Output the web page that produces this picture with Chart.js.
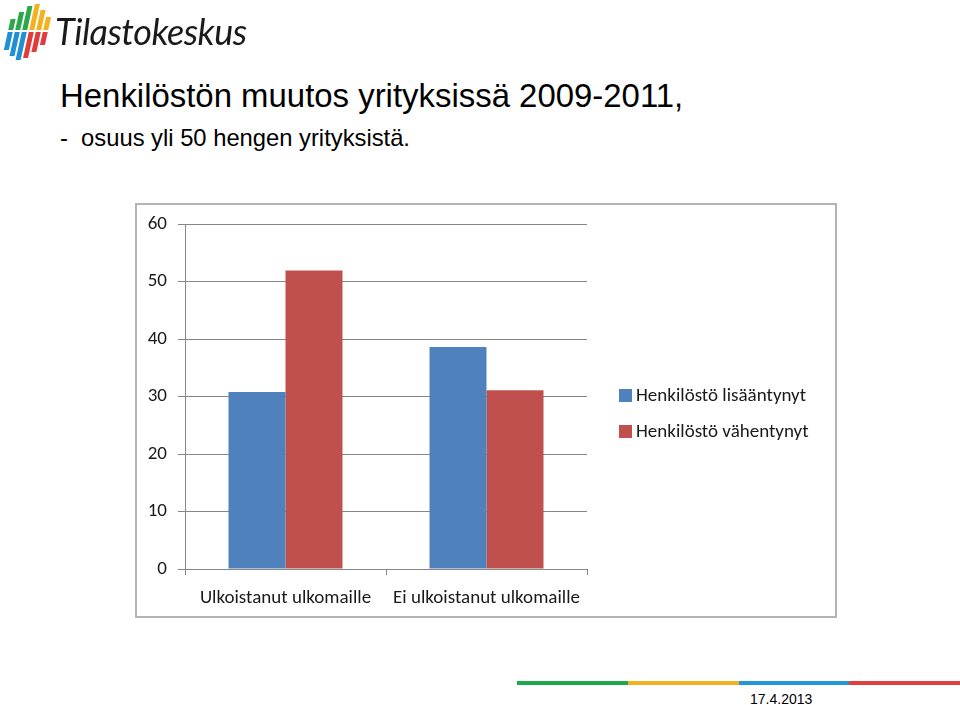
<!DOCTYPE html>
<html>
<head>
<meta charset="utf-8">
<script src="https://cdn.jsdelivr.net/npm/chart.js@4.4.0/dist/chart.umd.min.js"></script>
<style>
  html, body { margin: 0; padding: 0; background: #fff; width: 960px; height: 705px; overflow: hidden; position: relative; }
  #logoMark { position: absolute; left: 0; top: 0; }
  #logoText { position: absolute; left: 55px; top: 9px; font-family: "Lato", sans-serif; font-style: italic; font-size: 36px; color: #1a1a1a; letter-spacing: -0.5px; white-space: nowrap; }
  #title1 { position: absolute; left: 60px; top: 76px; font-family: "Liberation Sans", Arial, sans-serif; font-size: 34px; color: #000; white-space: nowrap; transform-origin: 0 0; transform: scaleX(0.968); }
  #title2 { position: absolute; left: 60px; top: 124px; font-family: "Liberation Sans", Arial, sans-serif; font-size: 24px; color: #000; white-space: nowrap; transform-origin: 0 0; transform: scaleX(0.99); }
  #frame { position: absolute; left: 135px; top: 203px; width: 698px; height: 411px; border: 2px solid #b4b4b4; }
  #chartWrap { position: absolute; left: 0; top: 0; width: 698px; height: 411px; }
  #legend { position: absolute; left: 482px; top: 178px; font-family: "Carlito", "Lato", sans-serif; font-size: 19px; color: #1a1a1a; }
  .li { position: relative; height: 36px; line-height: 24px; white-space: nowrap; }
  .sw { position: absolute; left: 0; top: 6px; width: 13px; height: 13px; }
  .lt { position: absolute; left: 17px; top: 0; }
  #footer { position: absolute; left: 517px; top: 681px; width: 443px; height: 4px; display: flex; }
  #footer div { flex: 1; height: 4px; }
  #date { position: absolute; left: 750px; top: 691px; font-family: "Liberation Sans", Arial, sans-serif; font-size: 14px; color: #000; }
</style>
</head>
<body>
<canvas id="logoMark" width="56" height="64"></canvas>
<div id="logoText">Tilastokeskus</div>
<div id="title1">Henkilöstön muutos yrityksissä 2009-2011,</div>
<div id="title2">-&nbsp;&nbsp;osuus yli 50 hengen yrityksistä.</div>
<div id="frame">
  <div id="chartWrap"><canvas id="chart" width="698" height="411"></canvas></div>
  <div id="legend"></div>
</div>
<div id="footer"><div style="background:#1ea84e"></div><div style="background:#f4b223"></div><div style="background:#2196d8"></div><div style="background:#e2403f"></div></div>
<div id="date">17.4.2013</div>

<script>
// ---- data ----
const categories = ["Ulkoistanut ulkomaille", "Ei ulkoistanut ulkomaille"];
const seriesNames = ["Henkilöstö lisääntynyt", "Henkilöstö vähentynyt"];
const increased = [30.8, 38.6];
const decreased = [51.9, 31.1];
const yTicks = [0, 10, 20, 30, 40, 50, 60];

const colors = ["#4F81BD", "#C0504D"];

// ---- logo mark (decoration) ----
(function () {
  const c = document.getElementById('logoMark').getContext('2d');
  const mid = 31;
  const slant = 0.22;
  const cols = [
    { x: 8,  top: 19, bot: 50, ct: "#2aa84a", cb: "#1f8fd6" },
    { x: 15, top: 12, bot: 56, ct: "#2aa84a", cb: "#1f8fd6" },
    { x: 22, top: 6,  bot: 60, ct: "#2aa84a", cb: "#1f8fd6" },
    { x: 29, top: 4,  bot: 58, ct: "#f2b21f", cb: "#e03c3c" },
    { x: 36, top: 10, bot: 52, ct: "#f2b21f", cb: "#e03c3c" },
    { x: 43, top: 17, bot: 45, ct: "#f2b21f", cb: "#e03c3c" }
  ];
  const w = 5;
  function strip(x, y0, y1, col) {
    c.fillStyle = col;
    c.beginPath();
    c.moveTo(x + (mid - y0) * slant, y0);
    c.lineTo(x + w + (mid - y0) * slant, y0);
    c.lineTo(x + w + (mid - y1) * slant, y1);
    c.lineTo(x + (mid - y1) * slant, y1);
    c.closePath();
    c.fill();
  }
  cols.forEach(k => { strip(k.x, k.top, mid - 1, k.ct); strip(k.x, mid + 1, k.bot, k.cb); });
})();

// ---- legend (html from data) ----
const lg = document.getElementById('legend');
seriesNames.forEach((n, i) => {
  const d = document.createElement('div'); d.className = 'li';
  d.innerHTML = '<span class="sw" style="background:' + colors[i] + '"></span><span class="lt">' + n + '</span>';
  lg.appendChild(d);
});

// ---- chart ----
const FONT = "Carlito, Lato, sans-serif";
new Chart(document.getElementById('chart'), {
  type: 'bar',
  data: {
    labels: categories,
    datasets: [
      { label: seriesNames[0], data: increased, backgroundColor: colors[0], barPercentage: 1, categoryPercentage: 0.567 },
      { label: seriesNames[1], data: decreased, backgroundColor: colors[1], barPercentage: 1, categoryPercentage: 0.567 }
    ]
  },
  options: {
    responsive: false,
    animation: false,
    layout: { padding: { left: 0, top: 19, right: 248, bottom: 0 } },
    plugins: { legend: { display: false }, tooltip: { enabled: false } },
    scales: {
      x: {
        offset: true,
        grid: { drawOnChartArea: false, color: '#868686', tickLength: 6, offset: true },
        border: { color: '#868686' },
        ticks: { font: { family: FONT, size: 19 }, color: '#1a1a1a', padding: 12, maxRotation: 0, autoSkip: false },
        afterFit: s => { s.height = 47; s.paddingLeft = 0; s.paddingRight = 0; }
      },
      y: {
        min: 0, max: 60,
        afterBuildTicks: s => { s.ticks = yTicks.map(v => ({ value: v })); },
        grid: { color: '#868686', tickLength: 7 },
        border: { color: '#868686' },
        ticks: { font: { family: FONT, size: 19 }, color: '#1a1a1a', padding: 11 },
        afterFit: s => { s.width = 48; s.paddingTop = 0; s.paddingBottom = 0; }
      }
    }
  }
});
</script>
</body>
</html>
